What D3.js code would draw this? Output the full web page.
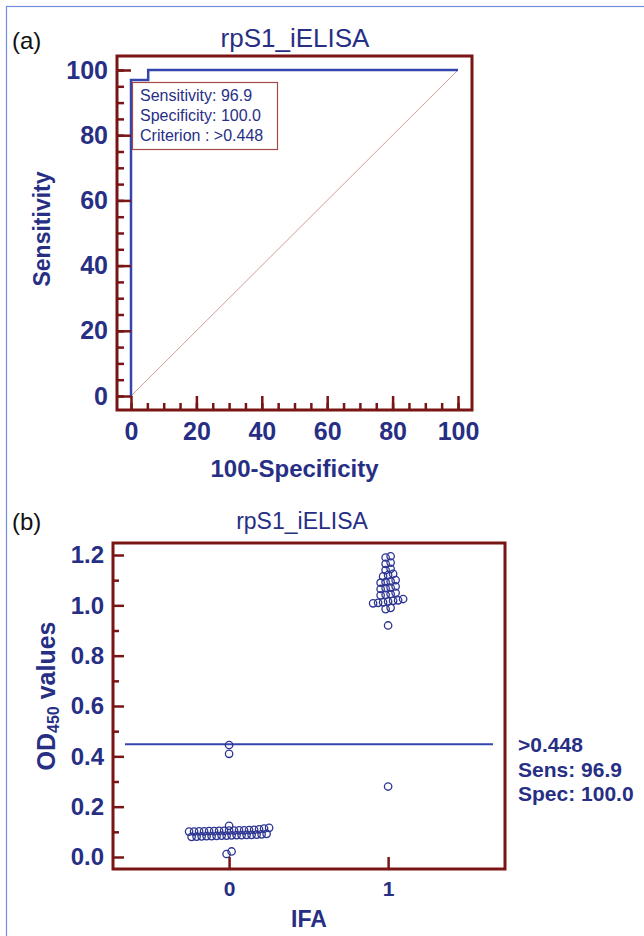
<!DOCTYPE html>
<html>
<head>
<meta charset="utf-8">
<script src="https://cdnjs.cloudflare.com/ajax/libs/d3/7.8.5/d3.min.js"></script>
<style>
body { margin: 0; background: #fff; }
svg text { font-family: "Liberation Sans", Arial, sans-serif; }
</style>
</head>
<body>
<svg id="chart"></svg>
<script>
'use strict'

// (a) ROC curve
const rocFpr = [0, 0, 5.26, 5.26, 100] // 100-Specificity
const rocSens = [0, 96.9, 96.9, 100, 100] // Sensitivity
const rocTicks = [0, 20, 40, 60, 80, 100]
const rocLegend = ['Sensitivity: 96.9', 'Specificity: 100.0', 'Criterion : >0.448']

// (b) dot plot, OD450 per IFA group
const groups = [0, 1]
const negValues = [0.445, 0.410, 0.124, 0.012, 0.022,
	0.080, 0.081, 0.082, 0.083, 0.083, 0.084, 0.085, 0.085, 0.086, 0.087, 0.087, 0.088, 0.088, 0.089, 0.090, 0.092,
	0.101, 0.101, 0.102, 0.102, 0.103, 0.103, 0.104, 0.104, 0.105, 0.105, 0.106, 0.106, 0.107, 0.108, 0.110, 0.113, 0.116]
const posValues = [0.28, 0.92, 0.985, 0.99,
	1.008, 1.010, 1.012, 1.015, 1.018, 1.020, 1.025,
	1.040, 1.042, 1.045, 1.050,
	1.065, 1.068, 1.070, 1.075,
	1.090, 1.092, 1.095, 1.100,
	1.115, 1.120, 1.125,
	1.140, 1.145, 1.165, 1.170, 1.190, 1.195]
const odTicks = [0, 0.2, 0.4, 0.6, 0.8, 1.0, 1.2]
const cutoff = 0.448
const cutoffLabels = ['>0.448', 'Sens: 96.9', 'Spec: 100.0']

const navy = '#272f85'
const blue = '#3445ad'
const frameRed = '#7a1515'

const svg = d3.select('#chart').attr('width', 644).attr('height', 936)

// page border
svg.append('rect')
	.attr('x', 6.5).attr('y', 6.5).attr('width', 700).attr('height', 1000)
	.attr('fill', 'none').attr('stroke', '#6f8ee0').attr('stroke-width', 1.2)

function styleAxis(g, size) {
	g.select('.domain').remove()
	g.selectAll('.tick line').attr('stroke', frameRed).attr('stroke-width', 2.5)
	g.selectAll('.tick text').attr('fill', navy).attr('font-size', size).attr('font-weight', 'bold')
		.attr('font-family', '"Liberation Sans", Arial, sans-serif')
}

// ---------- (a) ----------
const xa = d3.scaleLinear().domain([0, 100]).range([131, 458])
const ya = d3.scaleLinear().domain([0, 100]).range([396, 70])
const padA = 14
const ga = svg.append('g')

ga.append('text').attr('x', 12).attr('y', 49).attr('font-size', 24).attr('fill', '#111').text('(a)')
ga.append('text').attr('x', 295).attr('y', 47).attr('text-anchor', 'middle')
	.attr('font-size', 26).attr('fill', navy).text('rpS1_iELISA')

// diagonal reference line
ga.append('line')
	.attr('x1', xa(0)).attr('y1', ya(0)).attr('x2', xa(100)).attr('y2', ya(100))
	.attr('stroke', '#d49a9a').attr('stroke-width', 1)

// ROC curve
ga.append('path')
	.datum(d3.range(rocFpr.length))
	.attr('d', d3.line().x(i => xa(rocFpr[i])).y(i => ya(rocSens[i])))
	.attr('fill', 'none').attr('stroke', blue).attr('stroke-width', 2.5)

// axes (ticks point inward from the frame)
ga.append('g').attr('transform', `translate(${xa(0) - padA},0)`)
	.call(d3.axisLeft(ya).tickValues(d3.range(0, 101, 5)).tickSize(-padA / 2).tickFormat(''))
	.call(g => styleAxis(g, 25))
ga.append('g').attr('transform', `translate(${xa(0) - padA},0)`)
	.call(d3.axisLeft(ya).tickValues(rocTicks).tickSize(-padA).tickPadding(9))
	.call(g => styleAxis(g, 25))
ga.append('g').attr('transform', `translate(0,${ya(0) + padA})`)
	.call(d3.axisBottom(xa).tickValues(d3.range(0, 101, 5)).tickSize(-padA / 2).tickFormat(''))
	.call(g => styleAxis(g, 25))
ga.append('g').attr('transform', `translate(0,${ya(0) + padA})`)
	.call(d3.axisBottom(xa).tickValues(rocTicks).tickSize(-padA).tickPadding(12))
	.call(g => styleAxis(g, 25))

// frame
ga.append('rect')
	.attr('x', xa(0) - padA).attr('y', ya(100) - padA)
	.attr('width', xa(100) - xa(0) + 2 * padA).attr('height', ya(0) - ya(100) + 2 * padA)
	.attr('fill', 'none').attr('stroke', frameRed).attr('stroke-width', 3)

// legend box
ga.append('rect').attr('x', 132.5).attr('y', 82.5).attr('width', 145).attr('height', 67)
	.attr('fill', '#fff').attr('stroke', '#a84848').attr('stroke-width', 1.2)
ga.selectAll('.leg').data(rocLegend).enter().append('text')
	.attr('x', 140).attr('y', (d, i) => 101 + i * 20)
	.attr('font-size', 16).attr('fill', navy).text(d => d)

ga.append('text').attr('transform', `translate(50,229) rotate(-90)`)
	.attr('text-anchor', 'middle').attr('font-size', 23).attr('font-weight', 'bold')
	.attr('fill', navy).text('Sensitivity')
ga.append('text').attr('x', (xa(0) + xa(100)) / 2).attr('y', 477).attr('text-anchor', 'middle')
	.attr('font-size', 24).attr('font-weight', 'bold').attr('fill', navy).text('100-Specificity')

// ---------- (b) ----------
const xb = d3.scaleLinear().domain([-0.73, 1.735]).range([113, 505])
const yb = d3.scaleLinear().domain([0, 1.2]).range([857, 555])
const padB = 12
const gb = svg.append('g')

gb.append('text').attr('x', 12).attr('y', 530).attr('font-size', 24).attr('fill', '#111').text('(b)')
gb.append('text').attr('x', 302).attr('y', 529).attr('text-anchor', 'middle')
	.attr('font-size', 23).attr('fill', navy).text('rpS1_iELISA')

gb.append('g').attr('transform', `translate(${xb.range()[0]},0)`)
	.call(d3.axisLeft(yb).tickValues(d3.range(0.1, 1.2, 0.2)).tickSize(-6).tickFormat(''))
	.call(g => styleAxis(g, 24))
gb.append('g').attr('transform', `translate(${xb.range()[0]},0)`)
	.call(d3.axisLeft(yb).tickValues(odTicks).tickSize(-11).tickPadding(9).tickFormat(d3.format('.1f')))
	.call(g => styleAxis(g, 24))
gb.append('g').attr('transform', `translate(0,${yb(0) + padB})`)
	.call(d3.axisBottom(xb).tickValues(groups).tickSize(-12).tickPadding(12).tickFormat(d3.format('d')))
	.call(g => styleAxis(g, 21))

gb.append('rect')
	.attr('x', xb.range()[0]).attr('y', yb(1.2) - padB)
	.attr('width', xb.range()[1] - xb.range()[0]).attr('height', yb(0) - yb(1.2) + 2 * padB)
	.attr('fill', 'none').attr('stroke', frameRed).attr('stroke-width', 3)

// cut-off line
gb.append('line')
	.attr('x1', xb.range()[0] + padB).attr('x2', xb.range()[1] - padB)
	.attr('y1', yb(cutoff)).attr('y2', yb(cutoff))
	.attr('stroke', blue).attr('stroke-width', 2)

gb.selectAll('.cut').data(cutoffLabels).enter().append('text')
	.attr('x', 518).attr('y', (d, i) => yb(cutoff) + 8 + i * 24.5)
	.attr('font-size', 21).attr('font-weight', 'bold').attr('fill', navy).text(d => d)

// dot layout: near-equal values share a row, spread around the group centre
const binH = 0.02
const dotGap = 5
function dotLayout(values, group) {
	const rows = []
	values.slice().sort((a, b) => a - b).forEach(v => {
		const row = rows[rows.length - 1]
		if (row && v - row[0] <= binH + 1e-9) row.push(v)
		else rows.push([v])
	})
	const pts = []
	rows.forEach(row => row.forEach((v, i) => {
		pts.push({ x: xb(group) + (i - (row.length - 1) / 2) * dotGap, y: yb(v) })
	}))
	return pts
}
const dots = dotLayout(negValues, 0).concat(dotLayout(posValues, 1))
gb.selectAll('.dot').data(dots).enter().append('circle')
	.attr('cx', d => d.x).attr('cy', d => d.y).attr('r', 3.7)
	.attr('fill', 'none').attr('stroke', '#2d3592').attr('stroke-width', 1.3)

gb.append('text').attr('transform', `translate(55,696) rotate(-90)`)
	.attr('text-anchor', 'middle').attr('font-size', 25).attr('font-weight', 'bold').attr('fill', navy)
	.call(t => {
		t.append('tspan').text('OD')
		t.append('tspan').attr('font-size', 16).attr('dy', 4).text('450')
		t.append('tspan').attr('dy', -4).text(' values')
	})
gb.append('text').attr('x', (xb.range()[0] + xb.range()[1]) / 2).attr('y', 927).attr('text-anchor', 'middle')
	.attr('font-size', 23).attr('font-weight', 'bold').attr('fill', navy).text('IFA')
</script>
</body>
</html>
